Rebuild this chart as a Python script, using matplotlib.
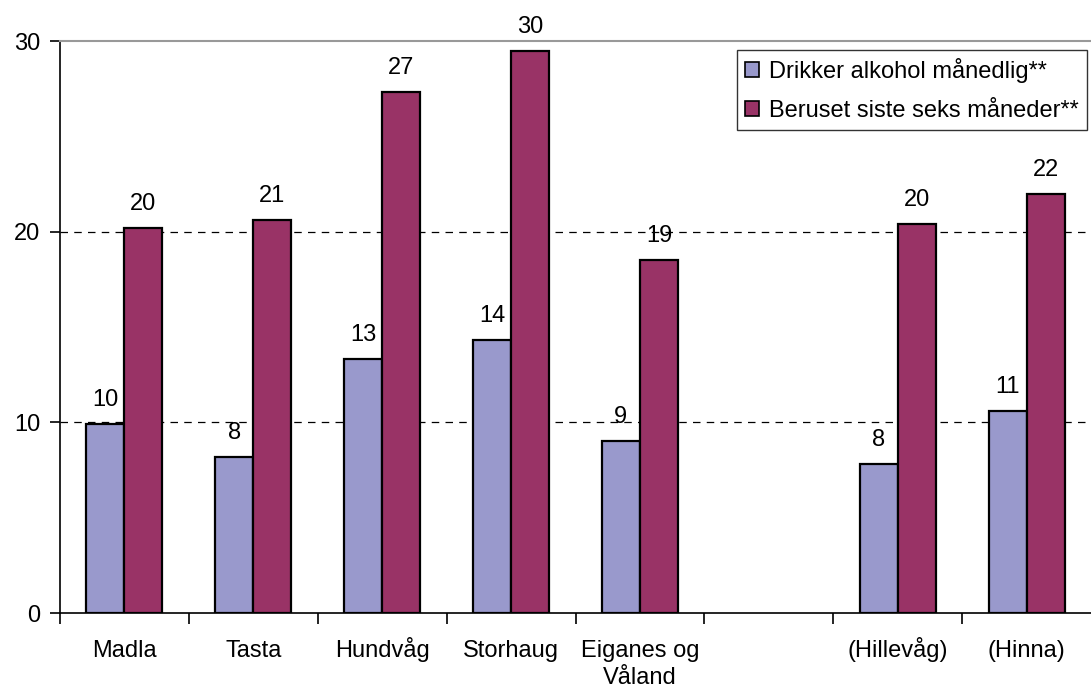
import numpy as np
import matplotlib
matplotlib.use("Agg")
from matplotlib import pyplot as plt
from matplotlib import transforms

# categories (empty slot between Eiganes og Våland and Hillevåg)
categories = ['Madla', 'Tasta', 'Hundvåg', 'Storhaug', 'Eiganes og\nVåland', '', '(Hillevåg)', '(Hinna)']
drikker = [9.9, 8.2, 13.3, 14.3, 9.0, np.nan, 7.8, 10.6]
beruset = [20.2, 20.6, 27.3, 29.5, 18.5, np.nan, 20.4, 22.0]
drikker_lbl = ['10', '8', '13', '14', '9', '', '8', '11']
beruset_lbl = ['20', '21', '27', '30', '19', '', '20', '22']
series_names = ['Drikker alkohol månedlig**', 'Beruset siste seks måneder**']

plt.rcParams['font.family'] = ['Liberation Sans', 'DejaVu Sans']
FS = 17

fig = plt.figure(figsize=(10.91, 6.88), dpi=100)
ax = fig.add_axes([60/1091, 75/688, 1 - 60/1091, (613-41)/688])

x = np.arange(len(categories))
w = 0.295
ax.bar(x - w/2, drikker, w, color='#9999CC', edgecolor='black', linewidth=1.6,
       label=series_names[0], zorder=3)
ax.bar(x + w/2, beruset, w, color='#993366', edgecolor='black', linewidth=1.6,
       label=series_names[1], zorder=3)

for xi, v, t in zip(x, drikker, drikker_lbl):
    if t:
        ax.annotate(t, (xi - w/2, v), xytext=(0, 13), textcoords='offset pixels',
                    ha='center', va='bottom', fontsize=FS, annotation_clip=False)
for xi, v, t in zip(x, beruset, beruset_lbl):
    if t:
        ax.annotate(t, (xi + w/2, v), xytext=(0, 13), textcoords='offset pixels',
                    ha='center', va='bottom', fontsize=FS, annotation_clip=False)

ax.set_xlim(-0.5, len(categories) - 0.5)
ax.set_ylim(0, 30)
ax.set_yticks([0, 10, 20, 30])
ax.tick_params(axis='y', labelsize=FS, length=7, width=1.2, pad=7)

# category labels, ticks at boundaries
ax.set_xticks([])
ax.set_xticks(np.arange(len(categories)) - 0.5, minor=True)
ax.tick_params(axis='x', which='minor', length=8, width=1.2)
trans = transforms.blended_transform_factory(ax.transData, ax.transAxes)
for xi, c in zip(x, categories):
    for i, line in enumerate(c.split('\n')):
        off = transforms.ScaledTranslation(0, -(44 + 27 * i) / 100, fig.dpi_scale_trans)
        ax.text(xi, 0, line, transform=trans + off, ha='center', va='baseline', fontsize=FS)

for yv in [10, 20]:
    ax.axhline(yv, color='black', linestyle=(0, (6, 5)), linewidth=0.9, zorder=1)

ax.spines['right'].set_visible(False)
ax.spines['top'].set_color('#999999')
ax.spines['top'].set_linewidth(1.5)
ax.spines['left'].set_linewidth(1.2)
ax.spines['bottom'].set_linewidth(1.2)

leg = ax.legend(loc='upper left', bbox_to_anchor=((737 - 60) / 1031, (613 - 50) / 572),
                fontsize=FS, frameon=True, fancybox=False, edgecolor='black',
                handlelength=0.6, handleheight=0.6, handletextpad=0.4, borderpad=0.35,
                labelspacing=0.7, borderaxespad=0)
leg.get_frame().set_linewidth(1.0)
for h in leg.legend_handles:
    h.set_linewidth(1.2)

plt.savefig('out.png', dpi=100)
